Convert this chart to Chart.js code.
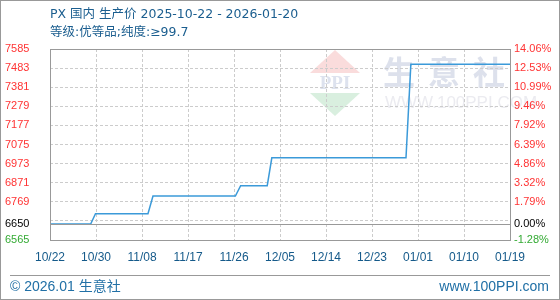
<!DOCTYPE html>
<html>
<head>
<meta charset="utf-8">
<script src="https://cdn.jsdelivr.net/npm/chart.js@4/dist/chart.umd.min.js"></script>
<style>
  html, body { margin: 0; padding: 0; background: #fff; }
  #wrap { width: 560px; height: 300px; }
</style>
</head>
<body>
<div id="wrap"><canvas id="myChart" width="560" height="300"></canvas></div>
<script>
const titleText = "PX 国内 生产价 2025-10-22 - 2026-01-20";
const subText = "等级:优等品;纯度:≥99.7";

// x positions in days along the axis (0 = 10/22), with the price at each
const xPos = [0, 7.96, 8.9, 19.17, 20.15, 36.27, 37.3, 42.5, 43.4, 69.65, 70.6, 90];
const prices = [6650, 6650, 6705, 6705, 6800, 6800, 6855, 6855, 7004, 7004, 7503, 7503];

const xLabels = ["10/22", "10/30", "11/08", "11/17", "11/26", "12/05", "12/14", "12/23", "01/01", "01/10", "01/19"];
const yTicks = [6565, 6667, 6769, 6871, 6973, 7075, 7177, 7279, 7381, 7483, 7585];
const base = 6650;

const sans = "'Liberation Sans', 'Noto Sans CJK SC', sans-serif";
const titleFont = "'DejaVu Sans', 'Noto Sans CJK SC', sans-serif";

let points = [];
for (let i = 0; i < xPos.length; i++) {
  points.push({ x: xPos[i], y: prices[i] });
}

function tickColor(ctx) {
  let v = ctx.tick.value;
  if (v > base) return "#ff3333";
  if (v < base) return "#33aa33";
  return "#000000";
}

function setTicks(scale) {
  let list = yTicks.slice();
  list.push(base);
  list.sort((a, b) => a - b);
  scale.ticks = list.map(v => ({ value: v }));
}

const decor = {
  id: "decor",
  beforeDraw(chart) {
    const c = chart.ctx;
    c.save();
    c.fillStyle = "#fff";
    c.fillRect(0, 0, 560, 300);

    // watermark logo
    c.fillStyle = "#fadcdc";
    c.beginPath();
    c.moveTo(335, 50); c.lineTo(360, 73); c.lineTo(310, 73); c.closePath();
    c.fill();
    c.fillStyle = "#d9efdf";
    c.beginPath();
    c.moveTo(310, 93); c.lineTo(360, 93); c.lineTo(335, 116); c.closePath();
    c.fill();
    c.fillStyle = "#dde2ee";
    c.font = "bold 19px 'Liberation Serif', serif";
    c.textAlign = "center";
    c.textBaseline = "middle";
    c.fillText("PPI", 335, 84);

    c.fillStyle = "#dde1ec";
    c.font = "bold 32px 'Noto Sans CJK SC', sans-serif";
    c.textAlign = "left";
    c.fillText("生", 383, 72);
    c.fillText("意", 428, 72);
    c.fillText("社", 473, 72);
    c.fillStyle = "#ebebf0";
    c.font = "17px " + sans;
    c.fillText("WWW.100PPI.COM", 385, 103);
    c.restore();
  },
  afterDatasetsDraw(chart) {
    const c = chart.ctx;
    const a = chart.chartArea;
    const y = Math.round(chart.scales.y.getPixelForValue(base)) + 0.5;
    c.save();
    c.strokeStyle = "#999";
    c.lineWidth = 1;
    c.beginPath();
    c.moveTo(a.left, y); c.lineTo(a.right, y);
    c.stroke();
    c.strokeRect(Math.round(a.left) + 0.5, Math.round(a.top) + 0.5, Math.round(a.right - a.left), Math.round(a.bottom - a.top));
    c.restore();
  },
  afterDraw(chart) {
    const c = chart.ctx;
    c.save();
    c.strokeStyle = "#999";
    c.lineWidth = 1;
    c.strokeRect(0.5, 0.5, 559, 299);
    c.beginPath();
    c.moveTo(10, 275.5); c.lineTo(550, 275.5);
    c.stroke();

    c.textBaseline = "middle";
    c.fillStyle = "#1b5e8f";
    c.font = "12.5px " + titleFont;
    c.fillText(titleText, 50, 15);
    c.fillText(subText, 50, 33);

    c.fillStyle = "#2170a6";
    c.font = "14px " + sans;
    c.fillText("© 2026.01 生意社", 10, 287);
    c.textAlign = "right";
    c.fillText("www.100PPI.com", 549, 287);
    c.restore();
  }
};

new Chart(document.getElementById("myChart"), {
  type: "line",
  data: {
    datasets: [{
      data: points,
      borderColor: "#3b9ad9",
      borderWidth: 1.5,
      pointRadius: 0,
      tension: 0,
      fill: false,
      yAxisID: "y"
    }]
  },
  options: {
    responsive: false,
    animation: false,
    events: [],
    layout: { padding: { left: 5, right: 1, top: 49, bottom: 30 } },
    plugins: { legend: { display: false }, tooltip: { enabled: false } },
    scales: {
      x: {
        type: "linear",
        min: 0,
        max: 90,
        afterFit(scale) { scale.height = 30; },
        border: { display: false, dash: [3, 2] },
        grid: { color: "#cccccc", drawTicks: false },
        ticks: {
          stepSize: 9,
          autoSkip: false,
          maxRotation: 0,
          padding: 10,
          color: "#155a8a",
          font: { family: sans, size: 12 },
          callback: v => xLabels[Math.round(v / 9)]
        }
      },
      y: {
        position: "left",
        min: 6565,
        max: 7585,
        afterBuildTicks: setTicks,
        afterFit(scale) { scale.width = 45; },
        border: { display: false, dash: [3, 2] },
        grid: {
          drawTicks: false,
          color: ctx => ctx.tick && ctx.tick.value === base ? "rgba(0,0,0,0)" : "#cccccc"
        },
        ticks: {
          crossAlign: "far",
          color: tickColor,
          font: { family: sans, size: 11 },
          callback: v => (v === 6667 ? "" : String(v))
        }
      },
      y2: {
        position: "right",
        min: 6565,
        max: 7585,
        afterBuildTicks: setTicks,
        afterFit(scale) { scale.width = 49; },
        border: { display: false },
        grid: { display: false, drawTicks: false },
        ticks: {
          padding: 4,
          color: tickColor,
          font: { family: sans, size: 11 },
          callback: v => (v === 6667 ? "" : ((v - base) / base * 100).toFixed(2) + "%")
        }
      }
    }
  },
  plugins: [decor]
});
</script>
</body>
</html>
